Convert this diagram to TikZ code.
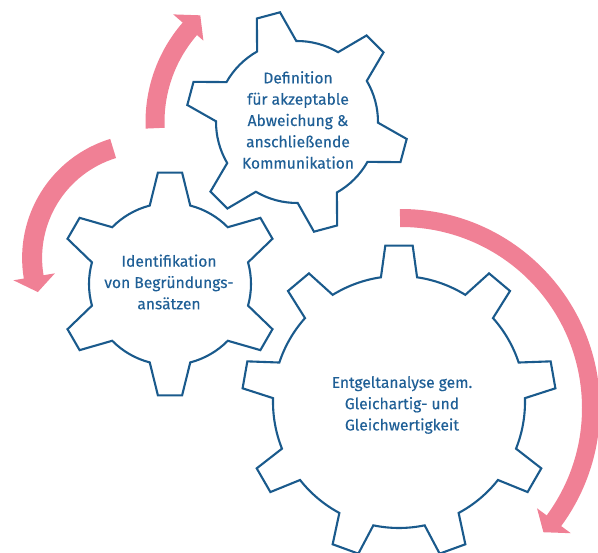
\documentclass[tikz,border=0pt]{standalone}
\usepackage{fontspec}
\setmainfont{Fira Sans}[FakeBold=0.25]
\definecolor{gearblue}{HTML}{1A5A8C}
\definecolor{textblue}{HTML}{1F5F96}
\definecolor{arrowpink}{HTML}{F08095}
\tikzset{
  gearline/.style={draw=gearblue, line width=2.1pt, line join=miter},
  gtext/.style={align=center, text=textblue, inner sep=0pt, font=\fontsize{15.6}{21.3}\selectfont},
  pinkarrow/.style={fill=arrowpink, draw=none}
}
% cx, cy, n, a0, R, r, tip half-angle, base half-angle, last index
\newcommand{\mygear}[9]{%
\begin{scope}[shift={(#1,#2)}]
\draw[gearline] ({#4-#8}:#6pt)
 \foreach \kk [evaluate=\kk as \ang using #4+\kk*360/#3] in {0,...,#9} {
   -- ({\ang-#7}:#5pt) -- ({\ang+#7}:#5pt) -- ({\ang+#8}:#6pt)
   arc[start angle={\ang+#8}, end angle={\ang+360/#3-#8}, radius=#6pt]
 } -- cycle;
\end{scope}}
\begin{document}
\begin{tikzpicture}[x=1pt,y=1pt]
\useasboundingbox (0,0) rectangle (598,553);
\clip (0,0) rectangle (598,553);
% arrow A (top, upward)
\begin{scope}[shift={(297,431)}]
\fill[pinkarrow] (182.5:151.5pt) arc[start angle=182.5, end angle=139, radius=151.5pt]
  -- (139:164pt) -- (132.2:144pt) -- (139:124pt) -- (139:132.5pt)
  arc[start angle=139, end angle=182.5, radius=132.5pt] -- cycle;
\end{scope}
% arrow B (left, downward)
\begin{scope}[shift={(146.6,295)}]
\fill[pinkarrow] (107:124.5pt) arc[start angle=107, end angle=189.5, radius=124.5pt]
  -- (189.5:135pt) -- (197.4:114pt) -- (189.5:93pt) -- (189.5:104.5pt)
  arc[start angle=189.5, end angle=107, radius=104.5pt] -- cycle;
\end{scope}
% arrow C (right, big)
\begin{scope}[shift={(401,145)}]
\fill[pinkarrow] (90.3:199pt) arc[start angle=90.3, end angle=-36.4, radius=199pt]
  -- (-36.4:211pt) -- (-41.1:189pt) -- (-36.4:169pt) -- (-36.4:181pt)
  arc[start angle=-36.4, end angle=90.3, radius=181pt] -- cycle;
\end{scope}
% gears
\mygear{297}{431}{6}{105}{111}{81}{6.2}{14.5}{5}
\mygear{170}{269}{6}{90}{112}{81}{6.2}{14.5}{5}
\mygear{399}{151}{9}{90}{157}{126}{5}{8.25}{8}
% texts
\node[gtext] (t1) at (298,433) {Definition\\für akzeptable\\Abweichung \&\\anschließende\\Kommunikation};
\node[gtext] (t2) at (169,271) {Identifikation\\von Begründungs-\\ansätzen};
\node[gtext] (t3) at (402,148) {Entgeltanalyse gem.\\Gleichartig- und\\Gleichwertigkeit};
\end{tikzpicture}
\end{document}
